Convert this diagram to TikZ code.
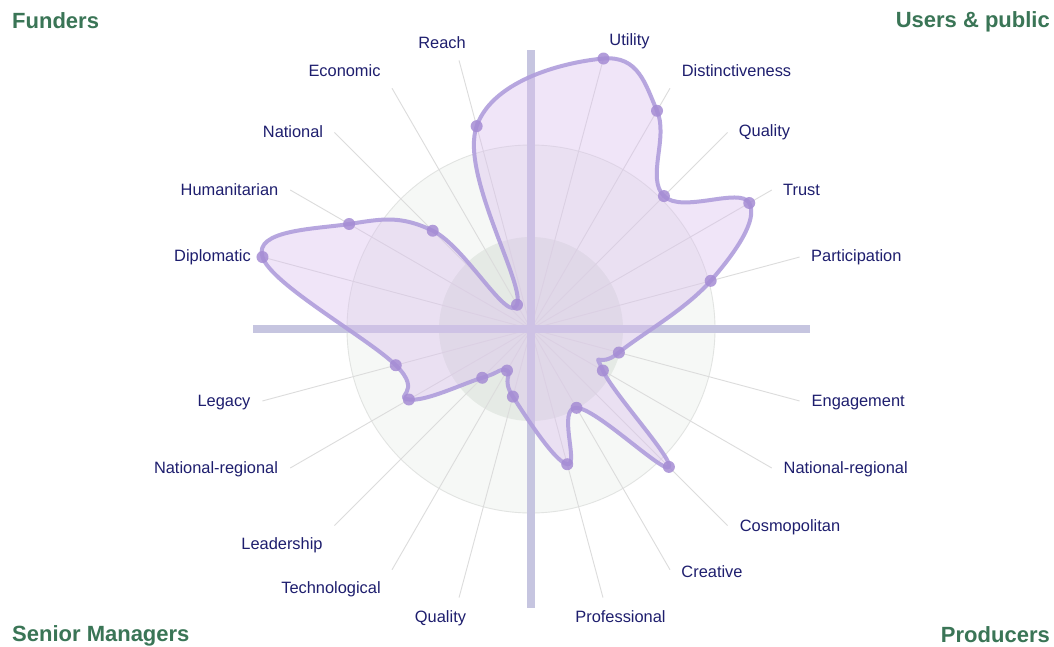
\documentclass[tikz,border=0pt]{standalone}
\usepackage{fontspec}
\setmainfont{Liberation Sans}
\definecolor{lblc}{RGB}{30,30,110}
\definecolor{ttlc}{RGB}{58,117,86}
\definecolor{spokec}{RGB}{220,220,220}
\definecolor{barc}{RGB}{198,197,224}
\definecolor{outerfillc}{RGB}{246,248,246}
\definecolor{innerfillc}{RGB}{229,234,229}
\definecolor{circlec}{RGB}{226,228,226}
\definecolor{shapefillc}{RGB}{218,190,238}
\definecolor{shapelinec}{RGB}{176,158,220}
\definecolor{dotc}{RGB}{165,140,212}
\begin{document}
\begin{tikzpicture}[x=1pt,y=-1pt,
  lbl/.style={text=lblc,font=\fontsize{16.4}{19}\selectfont,anchor=base,inner sep=0pt},
  ttl/.style={text=ttlc,font=\fontsize{22}{26}\selectfont\bfseries,inner sep=0pt},
  spoke/.style={draw=spokec,line width=0.9pt},
  bar/.style={fill=barc},
  shapefill/.style={fill=shapefillc,fill opacity=0.4},
  shapeline/.style={draw=shapelinec,line width=4pt,draw opacity=0.9,line join=round},
  dotstyle/.style={circle,fill=dotc,fill opacity=0.85,minimum size=12pt,inner sep=0pt}]
\useasboundingbox (0,0) rectangle (1054,647);
\fill[white] (0,0) rectangle (1054,647);
\coordinate (c) at (531,329);
\begin{scope}[shift={(c)}]
  \fill[outerfillc] (0,0) circle[radius=184];
  \draw[circlec,line width=0.9pt] (0,0) circle[radius=184];
  \fill[innerfillc] (0,0) circle[radius=92];
  \foreach \a in {-75,-60,-45,-30,-15,15,30,45,60,75,105,120,135,150,165,195,210,225,240,255}
    \draw[spoke] (0,0) -- (\a:278);
\end{scope}
\fill[bar] (527,50) rectangle (535,608);
\fill[bar] (253,325) rectangle (810,333);
\begin{scope}[shift={(c)}]
  \path[shapefill] plot[smooth cycle,tension=0.7] coordinates {(-75:280) (-60:252) (-45:188) (-30:252) (-15:186) (15:91) (30:83) (45:195) (60:91) (75:140) (105:70) (120:48) (135:69) (150:141) (165:140) (195:278) (210:210) (225:139) (240:28) (255:210)};
  \path[shapeline] plot[smooth cycle,tension=0.7] coordinates {(-75:280) (-60:252) (-45:188) (-30:252) (-15:186) (15:91) (30:83) (45:195) (60:91) (75:140) (105:70) (120:48) (135:69) (150:141) (165:140) (195:278) (210:210) (225:139) (240:28) (255:210)};
  \node[dotstyle] (p1) at (-75:280) {};
  \node[dotstyle] (p2) at (-60:252) {};
  \node[dotstyle] (p3) at (-45:188) {};
  \node[dotstyle] (p4) at (-30:252) {};
  \node[dotstyle] (p5) at (-15:186) {};
  \node[dotstyle] (p6) at (15:91) {};
  \node[dotstyle] (p7) at (30:83) {};
  \node[dotstyle] (p8) at (45:195) {};
  \node[dotstyle] (p9) at (60:91) {};
  \node[dotstyle] (p10) at (75:140) {};
  \node[dotstyle] (p11) at (105:70) {};
  \node[dotstyle] (p12) at (120:48) {};
  \node[dotstyle] (p13) at (135:69) {};
  \node[dotstyle] (p14) at (150:141) {};
  \node[dotstyle] (p15) at (165:140) {};
  \node[dotstyle] (p16) at (195:278) {};
  \node[dotstyle] (p17) at (210:210) {};
  \node[dotstyle] (p18) at (225:139) {};
  \node[dotstyle] (p19) at (240:28) {};
  \node[dotstyle] (p20) at (255:210) {};
\end{scope}
% axis labels
\node[lbl] (lReach) at (442,48.5) {Reach};
\node[lbl] (lEcon) at (344.5,77) {Economic};
\node[lbl] (lNat) at (293,138) {National};
\node[lbl] (lHum) at (229.5,196) {Humanitarian};
\node[lbl] (lDip) at (212.5,261.5) {Diplomatic};
\node[lbl] (lLeg) at (224,406.5) {Legacy};
\node[lbl] (lNRl) at (216,473) {National-regional};
\node[lbl] (lLead) at (282,549.5) {Leadership};
\node[lbl] (lTech) at (331,593.5) {Technological};
\node[lbl] (lQualL) at (440.5,622.5) {Quality};
\node[lbl] (lProf) at (620.5,622.5) {Professional};
\node[lbl] (lCrea) at (712,577.5) {Creative};
\node[lbl] (lCosm) at (790,531.5) {Cosmopolitan};
\node[lbl,anchor=base west] (lNRr) at (783.5,473) {National-regional};
\node[lbl,anchor=base west] (lEng) at (811.5,406.5) {Engagement};
\node[lbl,anchor=base west] (lPart) at (811,261.5) {Participation};
\node[lbl] (lTrust) at (801.5,196) {Trust};
\node[lbl] (lQualU) at (764.5,137) {Quality};
\node[lbl] (lDist) at (736.5,77) {Distinctiveness};
\node[lbl] (lUtil) at (629.5,46) {Utility};
% quadrant titles
\node[ttl,anchor=base west] (tFund) at (12,29) {Funders};
\node[ttl,anchor=base east] (tUser) at (1050,28) {Users \& public};
\node[ttl,anchor=base west] (tSen) at (12,641.5) {Senior Managers};
\node[ttl,anchor=base east] (tProd) at (1050,642.5) {Producers};
\end{tikzpicture}
\end{document}
